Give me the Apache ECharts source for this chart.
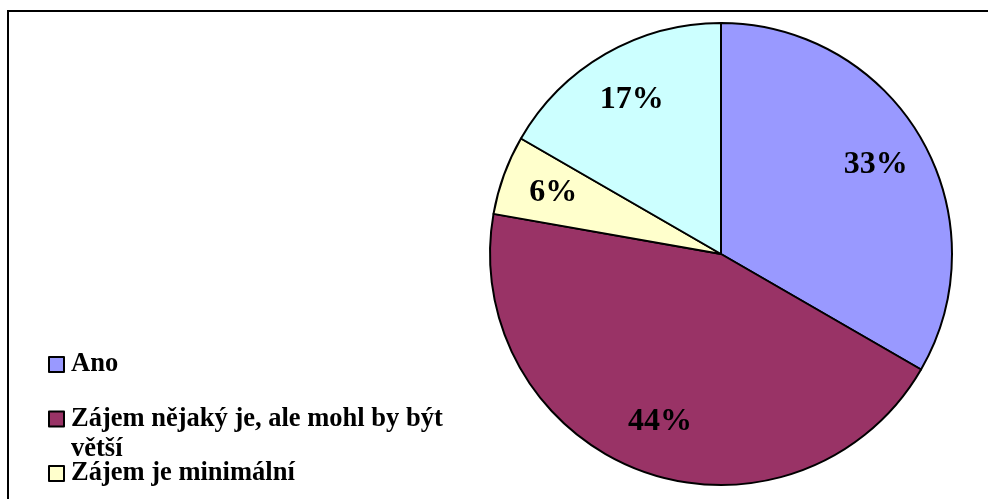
<!DOCTYPE html>
<html>
<head>
<meta charset="utf-8">
<script src="https://cdn.jsdelivr.net/npm/echarts@6/dist/echarts.min.js"></script>
<style>
html,body{margin:0;padding:0;background:#fff;}
#chart{width:988px;height:499px;}
</style>
</head>
<body>
<div id="chart"></div>
<script>
const categories = ['Ano', 'Zájem nějaký je, ale mohl by být větší', 'Zájem je minimální', 'Nevím'];
const values = [6, 8, 1, 3];
const colors = ['#9999FF', '#993366', '#FFFFCC', '#CCFFFF'];
const legendItems = ['Ano', 'Zájem nějaký je, ale mohl by být větší', 'Zájem je minimální'];

const FONT = "'Liberation Serif', 'Times New Roman', serif";
const R = 231;
const C = [721, 254];

const pieData = categories.map((c, i) => ({ name: c, value: values[i], itemStyle: { color: colors[i] } }));

const chart = echarts.init(document.getElementById('chart'), null, { renderer: 'canvas' });
chart.setOption({
  animation: false,
  backgroundColor: '#ffffff',
  graphic: [{
    type: 'rect',
    shape: { x: 8, y: 11, width: 2000, height: 2000 },
    style: { fill: 'none', stroke: '#000', lineWidth: 2 },
    silent: true
  }],
  legend: {
    orient: 'vertical',
    left: 48,
    top: 351,
    padding: 0,
    itemGap: -4,
    itemWidth: 15,
    itemHeight: 15,
    icon: 'rect',
    selectedMode: false,
    itemStyle: { borderColor: '#000', borderWidth: 2 },
    formatter: n => n.indexOf(' větší') >= 0 ? '\u200b\n' + n.split(' větší').join('\nvětší') : n,
    textStyle: { fontFamily: FONT, fontWeight: 'bold', fontSize: 26.5, color: '#000', lineHeight: 18, padding: [0, 0, 0, 2] },
    data: legendItems.map((n, i) => i === 1
      ? { name: n, textStyle: { lineHeight: 30 } }
      : { name: n })
  },
  series: [{
    type: 'pie',
    center: C,
    radius: [0, R],
    startAngle: 90,
    clockwise: true,
    avoidLabelOverlap: false,
    itemStyle: { borderColor: '#000', borderWidth: 2 },
    label: { show: false },
    labelLine: { show: false },
    emphasis: { disabled: true },
    data: pieData
  }, {
    type: 'pie',
    center: C,
    radius: [R * 0.52, R],
    startAngle: 90,
    clockwise: true,
    silent: true,
    avoidLabelOverlap: false,
    itemStyle: { color: 'rgba(0,0,0,0)', borderWidth: 0 },
    label: {
      show: true,
      position: 'inside',
      formatter: p => Math.round(p.percent) + '%',
      fontFamily: FONT,
      fontWeight: 'bold',
      fontSize: 32,
      color: '#000'
    },
    labelLine: { show: false },
    emphasis: { disabled: true },
    data: categories.map((c, i) => ({ name: c, value: values[i] }))
  }]
});
</script>
</body>
</html>
